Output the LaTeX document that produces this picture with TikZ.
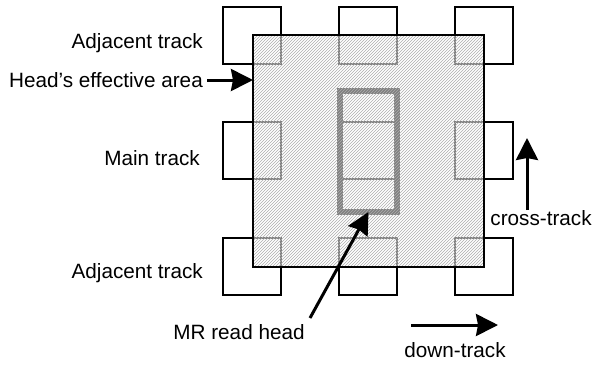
\documentclass[tikz,border=0pt]{standalone}
\usepackage{fontspec}
\setmainfont{Liberation Sans}
\usetikzlibrary{arrows.meta,patterns}
\begin{document}
\begin{tikzpicture}[x=1pt,y=-1pt,
  trackbox/.style={draw=black,line width=2.8pt,line join=miter},
  lbl/.style={font=\fontsize{20.7}{24}\selectfont,inner sep=4pt},
  bigarrow/.style={line width=3pt,-{Stealth[length=22pt,width=22pt,inset=2pt]}},
  headbox/.style={draw=black,line width=6pt,minimum width=57pt,minimum height=121pt,inner sep=0pt,outer sep=0pt},
  areabox/.style={draw=black,line width=2.8pt,minimum width=231pt,minimum height=232pt,inner sep=0pt,outer sep=0pt,
    preaction={fill=white,fill opacity=0.5},pattern=north east lines,pattern color=black!32}]
\useasboundingbox (0,0) rectangle (593,365);
% track squares
\foreach \cx in {223,339,455}{
  \foreach \cy in {7,122,238}{
    \draw[trackbox] (\cx,\cy) rectangle ++(58,57);
  }
}
% MR read head
\node[headbox] (mrh) at (368.5,151.5) {};
% head's effective area (overlay)
\node[areabox] (area) at (368.5,151) {};
% labels
\node[lbl,anchor=east] (adj1) at (207,43) {Adjacent track};
\node[lbl,anchor=east] (hea) at (207,80) {Head’s effective area};
\node[lbl,anchor=east] (main) at (204,158) {Main track};
\node[lbl,anchor=east] (adj2) at (207,273) {Adjacent track};
\node[lbl] (mrl) at (239,332) {MR read head};
\node[lbl] (dtl) at (455,350) {down-track};
\node[lbl] (ctl) at (541,218) {cross-track};
% arrows
\draw[bigarrow] (hea.east) -- (area.west |- hea.east);
\coordinate (mrs) at (310,318);
\draw[bigarrow] (mrs) -- (mrh.south);
\coordinate (dt1) at (411,325);
\coordinate (dt2) at (498,325);
\draw[bigarrow] (dt1) -- (dt2);
\coordinate (ct1) at (527,210);
\coordinate (ct2) at (527,138);
\draw[bigarrow] (ct1) -- (ct2);
\end{tikzpicture}
\end{document}
